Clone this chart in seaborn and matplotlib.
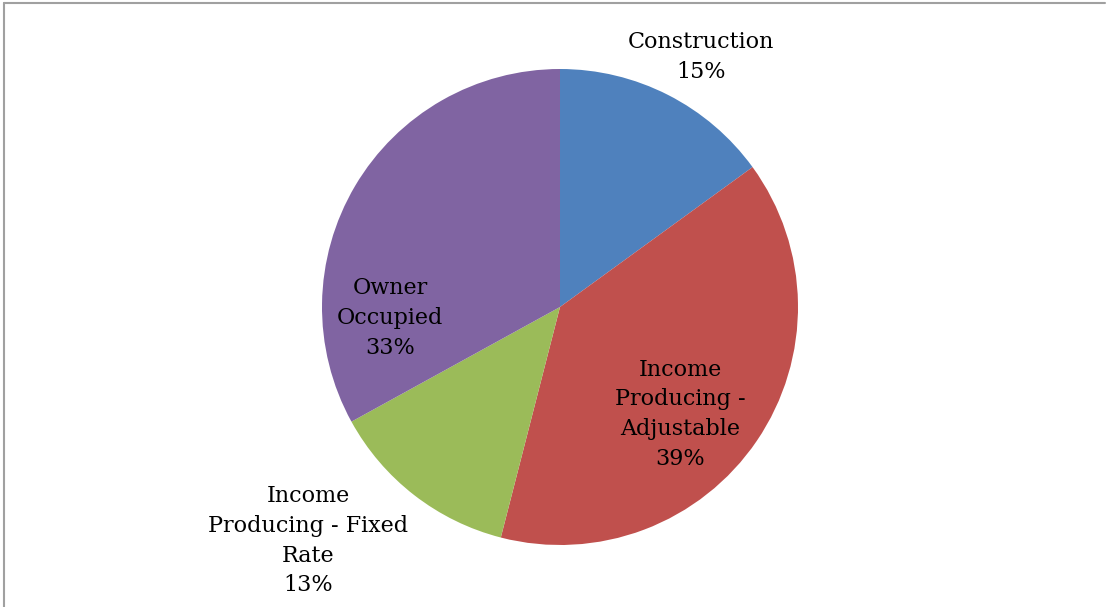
import matplotlib
matplotlib.use("Agg")
import matplotlib.pyplot as plt
import seaborn as sns
from matplotlib.lines import Line2D

categories = ["Construction", "Income\nProducing -\nAdjustable", "Income\nProducing - Fixed\nRate", "Owner\nOccupied"]
values = [15, 39, 13, 33]
colors = ["#4F81BD", "#C0504D", "#9BBB59", "#8064A2"]
label_pos = [(0.592, 1.05), (0.504, -0.45), (-1.059, -0.983), (-0.714, -0.046)]

sns.set_theme(style="white")
plt.rcParams['font.family'] = ['DejaVu Serif']

fig = plt.figure(figsize=(11.10, 6.07), dpi=100)
ax = fig.add_axes([(560 - 238) / 1110, (607 - 545) / 607, 476 / 1110, 476 / 607])
pal = sns.color_palette(colors)
ax.pie(values, colors=pal, startangle=90, counterclock=False, radius=1.0,
       wedgeprops=dict(linewidth=0))
ax.set_xlim(-1, 1)
ax.set_ylim(-1, 1)
ax.set_aspect("equal")
ax.axis("off")

for cat, v, (x, y) in zip(categories, values, label_pos):
    ax.text(x, y, f"{cat}\n{v}%", ha="center", va="center", fontsize=16,
            color="#000000", linespacing=1.45, clip_on=False)

fig.add_artist(Line2D([3.5 / 1110, 3.5 / 1110], [0, 1 - 2.5 / 607], transform=fig.transFigure,
                      color="#a0a0a0", linewidth=1.5))
fig.add_artist(Line2D([3.5 / 1110, 1105 / 1110], [1 - 2.5 / 607, 1 - 2.5 / 607], transform=fig.transFigure,
                      color="#a0a0a0", linewidth=1.5))

fig.savefig("out.png", dpi=100)
